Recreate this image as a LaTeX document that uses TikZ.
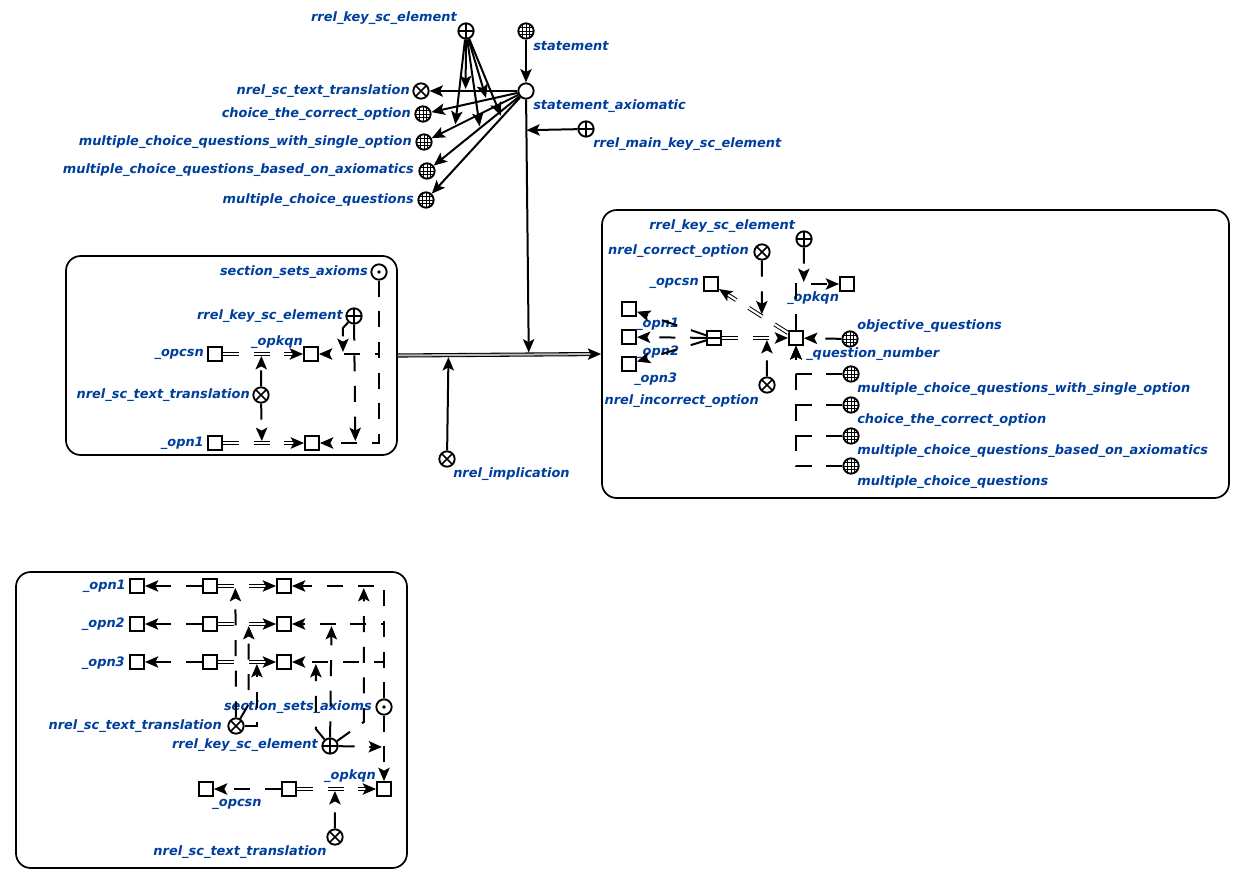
\documentclass[tikz,border=0pt]{standalone}
\usepackage{fontspec}
\setmainfont{DejaVu Sans}
\usetikzlibrary{arrows.meta,calc}
\definecolor{lblue}{RGB}{0,62,158}
\begin{document}
\begin{tikzpicture}[x=0.75pt,y=-0.75pt,
  lbl/.style={text=lblue, font=\fontsize{9.7}{11}\selectfont\bfseries\itshape, inner sep=0pt},
  scbase/.style={draw, line width=1.4pt, inner sep=0pt, fill=white},
  scnode/.style={scbase, circle, minimum size=11.5pt},
  scplus/.style={scnode, path picture={
      \draw[line width=1.1pt] (path picture bounding box.north) -- (path picture bounding box.south)
        (path picture bounding box.west) -- (path picture bounding box.east);}},
  sccross/.style={scnode, path picture={
      \draw[line width=1.1pt] (path picture bounding box.north west) -- (path picture bounding box.south east)
        (path picture bounding box.south west) -- (path picture bounding box.north east);}},
  scgrid/.style={scnode, path picture={
      \foreach \d in {-2.8,0,2.8}{
        \draw[line width=0.6pt] ([xshift=\d pt]path picture bounding box.north) -- ([xshift=\d pt]path picture bounding box.south)
          ([yshift=\d pt]path picture bounding box.west) -- ([yshift=\d pt]path picture bounding box.east);}}},
  scdot/.style={scnode, path picture={\fill[black] (path picture bounding box.center) circle (1.4pt);}},
  scsq/.style={scbase, rectangle, minimum size=10.5pt},
  sctup/.style={scsq, path picture={
      \draw[line width=1.1pt] (path picture bounding box.west) -- (path picture bounding box.east);}},
  frame/.style={draw, line width=1.3pt, rounded corners=11pt, inner sep=0pt},
  carc/.style={line width=1.5pt, -{Stealth[length=10pt,width=8.5pt,inset=2.2pt]}},
  varc/.style={line width=1.5pt, dash pattern=on 12pt off 11pt, -{Stealth[length=10pt,width=8.5pt,inset=2.2pt]}},
  onarc/.style={shorten >=1.5pt},
  ccom/.style={line width=0.8pt, double=gray!55, double distance=1.5pt, shorten >=7pt},
  vcom/.style={line width=0.75pt, double=white, double distance=1.6pt, dash pattern=on 12pt off 11pt, shorten >=7pt},
  tip/.style={line width=1.5pt, dash pattern=on 0pt off 10000pt, -{Stealth[length=10pt,width=8.5pt,inset=2.2pt]}}
]
\useasboundingbox (0,0) rectangle (1245,885);

% ---------- frames ----------
\node[frame, minimum width=248.25pt, minimum height=149.25pt] (lbox) at (231.5,355.5) {};
\node[frame, minimum width=470.25pt, minimum height=216pt] (rbox) at (915.5,354) {};
\node[frame, minimum width=293.25pt, minimum height=222pt] (bbox) at (211.5,720) {};

% ---------- statement block ----------
\node[scplus] (tkey) at (466,31) {};
\node[scgrid] (tstmt) at (526,31) {};
\node[scnode] (tsa) at (526,91) {};
\node[sccross] (tnst) at (421,91) {};
\node[scgrid] (tchoice) at (423,114) {};
\node[scgrid] (tsingle) at (424,142) {};
\node[scgrid] (taxio) at (427,171) {};
\node[scgrid] (tmcq) at (426,200) {};
\node[scplus] (tmain) at (586,129) {};

\node[lbl, anchor=east] (lt1) at (457,18) {rrel\_key\_sc\_element};
\node[lbl, anchor=west] (lt2) at (533,46) {statement};
\node[lbl, anchor=east] (lt3) at (410,91) {nrel\_sc\_text\_translation};
\node[lbl, anchor=east] (lt4) at (411,114) {choice\_the\_correct\_option};
\node[lbl, anchor=east] (lt5) at (412,142) {multiple\_choice\_questions\_with\_single\_option};
\node[lbl, anchor=east] (lt6) at (414,170) {multiple\_choice\_questions\_based\_on\_axiomatics};
\node[lbl, anchor=east] (lt7) at (414,200) {multiple\_choice\_questions};
\node[lbl, anchor=west] (lt8) at (533,106) {statement\_axiomatic};
\node[lbl, anchor=west] (lt9) at (593,144) {rrel\_main\_key\_sc\_element};

\draw[carc] (tstmt) -- (tsa);
\draw[carc] (tsa) -- coordinate[pos=.59] (t1) (tnst);
\draw[carc] (tsa) -- coordinate[pos=.36] (t2) (tchoice);
\draw[carc] (tsa) -- coordinate[pos=.73] (t3) (tsingle);
\draw[carc] (tsa) -- coordinate[pos=.46] (t4) (taxio);
\draw[carc] (tsa) -- coordinate[pos=.21] (t5) (tmcq);
\foreach \c in {t1,t2,t3,t4,t5} \draw[carc, onarc] (tkey) -- (\c);

% ---------- implication between the two structures ----------
\draw[ccom] (lbox.east) -- coordinate[pos=.249] (ci1) coordinate[pos=.644] (ci2) (rbox.west);
\draw[tip] (lbox.east) -- (rbox.west);
\node[sccross] (nimpl) at (447,459) {};
\node[lbl, anchor=west] (lm1) at (453,474) {nrel\_implication};
\draw[carc, onarc] (nimpl) -- (ci1);
\draw[carc, onarc] (tsa) -- coordinate[pos=.12] (ci3) (ci2);
\draw[carc] (tmain) -- (ci3);

% ---------- left structure ----------
\node[scdot] (lssa) at (379,272) {};
\node[scplus] (lkey) at (354,316) {};
\node[scsq] (lopcsn) at (215,354) {};
\node[scsq] (lsq1) at (311,354) {};
\node[sccross] (lnst) at (261,395) {};
\node[scsq] (lopn1) at (215,443) {};
\node[scsq] (lsq2) at (312,443) {};

\node[lbl, anchor=east] (ll1) at (368,272) {section\_sets\_axioms};
\node[lbl, anchor=east] (ll2) at (343,316) {rrel\_key\_sc\_element};
\node[lbl, anchor=east] (ll3) at (204,354) {\_opcsn};
\node[lbl] (ll4) at (277,342) {\_opkqn};
\node[lbl, anchor=east] (ll5) at (250,395) {nrel\_sc\_text\_translation};
\node[lbl, anchor=east] (ll6) at (204,443) {\_opn1};

\draw[vcom] (lopcsn) -- coordinate[pos=.48] (cl1) (lsq1);
\draw[tip] (lopcsn) -- (lsq1);
\draw[vcom] (lopn1) -- coordinate[pos=.48] (cl2) (lsq2);
\draw[tip] (lopn1) -- (lsq2);
\draw[varc, onarc] (lnst) -- (cl1);
\draw[varc, onarc] (lnst) -- (cl2);
\draw[varc] (lssa) |- coordinate[pos=.80] (cl3) (lsq1);
\draw[varc] (lssa) |- coordinate[pos=.70] (cl4) (lsq2);
\draw[varc, onarc] (lkey) -- ($(cl3)+(0,-26)$) -- (cl3);
\draw[varc, onarc] (lkey) -- (cl4);

% ---------- right structure ----------
\node[scplus] (rkey) at (804,239) {};
\node[sccross] (rcor) at (762,252) {};
\node[scsq] (ropcsn) at (711,284) {};
\node[scsq] (rsqk) at (847,284) {};
\node[scsq] (ro1) at (629,309) {};
\node[scsq] (ro2) at (629,337) {};
\node[scsq] (ro3) at (629,364) {};
\node[sctup] (rtup) at (714,338) {};
\node[scsq] (rq) at (796,338) {};
\node[sccross] (rinc) at (767,385) {};
\node[scgrid] (robj) at (850,339) {};
\node[scgrid] (rg1) at (851,374) {};
\node[scgrid] (rg2) at (851,405) {};
\node[scgrid] (rg3) at (851,436) {};
\node[scgrid] (rg4) at (851,466) {};

\node[lbl, anchor=west] (lr1) at (649,226) {rrel\_key\_sc\_element};
\node[lbl, anchor=east] (lr2) at (749,251) {nrel\_correct\_option};
\node[lbl, anchor=east] (lr3) at (699,283) {\_opcsn};
\node[lbl, anchor=west] (lr4) at (787,298) {\_opkqn};
\node[lbl, anchor=west] (lr5) at (636,324) {\_opn1};
\node[lbl, anchor=west] (lr6) at (636,352) {\_opn2};
\node[lbl, anchor=west] (lr7) at (634,379) {\_opn3};
\node[lbl, anchor=east] (lr8) at (759,401) {nrel\_incorrect\_option};
\node[lbl, anchor=west] (lr9) at (857,326) {objective\_questions};
\node[lbl, anchor=west] (lr10) at (806,354) {\_question\_number};
\node[lbl, anchor=west] (lr11) at (857,389) {multiple\_choice\_questions\_with\_single\_option};
\node[lbl, anchor=west] (lr12) at (857,420) {choice\_the\_correct\_option};
\node[lbl, anchor=west] (lr13) at (857,451) {multiple\_choice\_questions\_based\_on\_axiomatics};
\node[lbl, anchor=west] (lr14) at (857,482) {multiple\_choice\_questions};

\draw[varc] (rtup) -- (ro1);
\draw[varc] (rtup) -- (ro2);
\draw[varc] (rtup) -- (ro3);
\draw[vcom] (rtup) -- coordinate[pos=.68] (cr1) (rq);
\draw[tip] (rtup) -- (rq);
\draw[varc, onarc] (rinc) -- (cr1);
\draw[vcom] (rq) -- coordinate[pos=.38] (cr2) (ropcsn);
\draw[tip] (rq) -- (ropcsn);
\draw[varc, onarc] (rcor) -- (cr2);
\draw[varc] (rq) |- coordinate[pos=.59] (cr3) (rsqk);
\draw[varc, onarc] (rkey) -- (cr3);
\draw[varc] (robj) -- (rq);
\foreach \g in {rg1,rg2,rg3,rg4} \draw[varc] (\g) -| (rq);

% ---------- lower structure ----------
\foreach \r/\y in {1/586,2/624,3/662}{
  \node[scsq] (b\r l) at (137,\y) {};
  \node[scsq] (b\r m) at (210,\y) {};
  \node[scsq] (b\r r) at (284,\y) {};
}
\node[scdot] (bssa) at (384,707) {};
\node[sccross] (bnst) at (236,726) {};
\node[scplus] (bkey) at (330,746) {};
\node[scsq] (b4l) at (206,789) {};
\node[scsq] (b4m) at (289,789) {};
\node[scsq] (b4r) at (384,789) {};
\node[sccross] (bnst2) at (335,837) {};

\node[lbl, anchor=east] (lb1) at (126,586) {\_opn1};
\node[lbl, anchor=east] (lb2) at (125,624) {\_opn2};
\node[lbl, anchor=east] (lb3) at (125,663) {\_opn3};
\node[lbl, anchor=east] (lb4) at (372,707) {section\_sets\_axioms};
\node[lbl, anchor=east] (lb5) at (222,726) {nrel\_sc\_text\_translation};
\node[lbl, anchor=east] (lb6) at (318,745) {rrel\_key\_sc\_element};
\node[lbl] (lb7) at (350,776) {\_opkqn};
\node[lbl] (lb8) at (237,804) {\_opcsn};
\node[lbl] (lb9) at (240,852) {nrel\_sc\_text\_translation};

\foreach \r in {1,2,3} \draw[varc] (b\r m) -- (b\r l);
\draw[vcom] (b1m) -- coordinate[pos=.30] (cb1) (b1r);
\draw[tip] (b1m) -- (b1r);
\draw[vcom] (b2m) -- coordinate[pos=.53] (cb2) (b2r);
\draw[tip] (b2m) -- (b2r);
\draw[vcom] (b3m) -- coordinate[pos=.67] (cb3) (b3r);
\draw[tip] (b3m) -- (b3r);
\draw[varc, onarc] (bnst) -- (cb1);
\draw[varc, onarc] (bnst) -- ($(cb2)+(0,80)$) -- (cb2);
\draw[varc, onarc] (bnst) -| (cb3);

\draw[varc] (bssa) |- coordinate[pos=.61] (cs1) (b1r);
\draw[varc] (bssa) |- coordinate[pos=.785] (cs2) (b2r);
\draw[varc] (bssa) |- coordinate[pos=.87] (cs3) (b3r);
\draw[varc] (bssa) -- coordinate[pos=.48] (cs4) (b4r);
\draw[varc, onarc] (bkey) -- ($(cs1)+(0,136)$) -- (cs1);
\draw[varc, onarc] (bkey) -- (cs2);
\draw[varc, onarc] (bkey) -- ($(cs3)+(0,67)$) -- (cs3);
\draw[varc, onarc] (bkey) -- (cs4);

\draw[varc] (b4m) -- (b4l);
\draw[vcom] (b4m) -- coordinate[pos=.48] (cb4) (b4r);
\draw[tip] (b4m) -- (b4r);
\draw[varc, onarc] (bnst2) -- (cb4);
\end{tikzpicture}
\end{document}
